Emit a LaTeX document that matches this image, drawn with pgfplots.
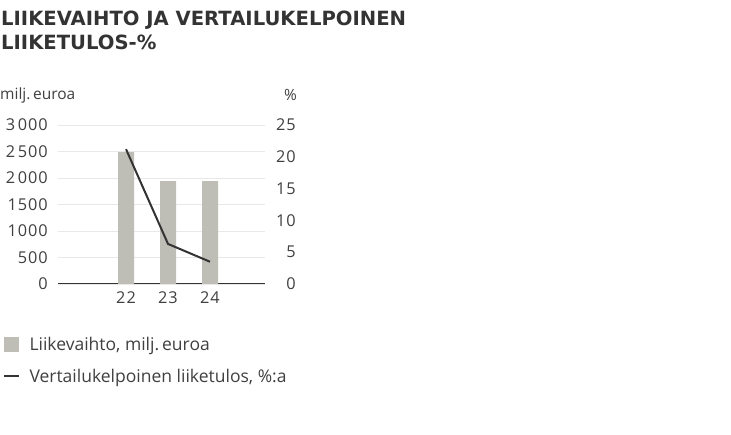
\documentclass[border=0pt]{standalone}
\usepackage{pgfplots}
\pgfplotsset{compat=1.18}
\usepackage{fontspec}
\setmainfont{Open Sans}
\newfontfamily\numfont[LetterSpace=6]{Open Sans}
\newfontfamily\titlefont{DejaVu Sans}
\definecolor{bargray}{HTML}{BEBEB7}
\definecolor{linedark}{HTML}{333333}
\definecolor{txt}{HTML}{404040}
\definecolor{gridc}{HTML}{E8E8E8}
\newcommand{\tickfont}{\numfont\fontsize{16.3}{18}\selectfont}
\newcommand{\legfont}{\fontsize{17.5}{19}\selectfont}
\begin{document}
\begin{tikzpicture}[x=1pt,y=1pt]
\path (0,0) rectangle (731,434);
\node[anchor=base west, inner sep=0pt, text=linedark, font=\titlefont\fontsize{19.6}{22}\selectfont\bfseries] at (1,408.5) {LIIKEVAIHTO JA VERTAILUKELPOINEN};
\node[anchor=base west, inner sep=0pt, text=linedark, font=\titlefont\fontsize{19.6}{22}\selectfont\bfseries] at (1,384.5) {LIIKETULOS-\%};
\node[anchor=west, inner sep=0pt, text=txt, font=\fontsize{15.5}{17}\selectfont] at (0,339) {milj.\,euroa};
\node[anchor=east, inner sep=0pt, text=txt, font=\fontsize{15.5}{17}\selectfont] at (297,339) {\%};
\begin{axis}[
  at={(58pt,150pt)}, anchor=south west,
  scale only axis, width=207pt, height=159pt,
  xmin=-1.62, xmax=3.31, ymin=0, ymax=3000,
  axis x line*=bottom, axis y line*=left,
  x axis line style={linedark, line width=1pt, -},
  y axis line style={draw=none},
  major tick length=0pt,
  xtick={0,1,2}, xticklabels={22,23,24},
  ytick={0,500,1000,1500,2000,2500,3000},
  yticklabels={0,500,1000,1500,2\,000,2\,500,3\,000},
  ymajorgrids, grid style={gridc, line width=0.8pt},
  tick label style={text=txt, font=\tickfont},
  yticklabel style={anchor=east, inner sep=0pt, xshift=-10pt},
  xticklabel style={anchor=north, inner sep=0pt, yshift=-7pt},
  /pgf/number format/assume math mode=true,
]
\addplot[ybar, bar width=16pt, fill=bargray, draw=none] coordinates {(0,2490) (1,1940) (2,1940)};
\end{axis}
\begin{axis}[
  at={(58pt,150pt)}, anchor=south west,
  scale only axis, width=207pt, height=159pt,
  xmin=-1.62, xmax=3.31, ymin=0, ymax=25,
  axis y line*=right, axis x line=none,
  y axis line style={draw=none},
  major tick length=0pt,
  ytick={0,5,10,15,20,25},
  tick label style={text=txt, font=\tickfont},
  yticklabel style={anchor=east, inner sep=0pt, xshift=31pt},
  /pgf/number format/assume math mode=true,
  legend style={at={(-0.265,-0.33)}, anchor=north west, draw=none, fill=none,
    font=\legfont, text=txt, row sep=18pt, inner sep=0pt,
    cells={anchor=west}, nodes={inner sep=0pt, text depth=0pt}},
  legend cell align=left,
]
\addlegendimage{legend image code/.code={\fill[bargray] (0pt,-7pt) rectangle (14pt,7pt);}}
\addlegendentry{\hspace{9pt}Liikevaihto, milj.\,euroa}
\addplot[linedark, line width=2pt, legend image code/.code={\draw[linedark,line width=2.2pt] (0pt,0pt) -- (15pt,0pt);}] coordinates {(0,21.2) (1,6.3) (2,3.5)};
\addlegendentry{\hspace{9pt}Vertailukelpoinen liiketulos, \%:a}
\end{axis}
\end{tikzpicture}
\end{document}
